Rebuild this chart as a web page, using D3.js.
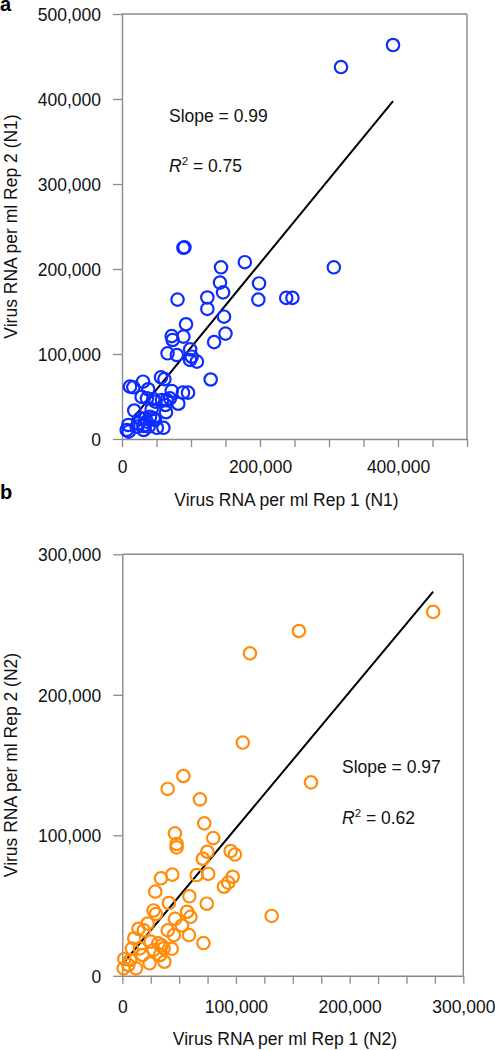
<!DOCTYPE html>
<html>
<head>
<meta charset="utf-8">
<script src="https://cdn.jsdelivr.net/npm/d3@7"></script>
<style>
  html, body { margin: 0; padding: 0; background: #fff; }
  svg { display: block; }
  text { font-family: "Liberation Sans", Arial, Helvetica, sans-serif; }
</style>
</head>
<body>
<svg id="chart" width="495" height="1050"></svg>
<script>
// ---------------- DATA ----------------
// Panel a: N1 (Rep 1 x, Rep 2 y), values in copies per ml
const n1Rep1 = [392800, 317400, 89000, 90500, 143500, 178000, 142000, 146500, 80500, 123700,
  123700, 198600, 197600, 238000, 247000, 307000, 147800, 150000, 133500, 92800,
  89000, 72000, 73400, 66000, 79500, 98800, 101000, 98600, 108500, 128500,
  56500, 61500, 16400, 11600, 30500, 38000, 72000, 88400, 95700, 81600,
  69600, 58000, 64700, 28500, 36200, 45400, 48300, 62800, 17800, 43000,
  63800, 9200, 6800, 9700, 60000, 50500, 23600, 35800, 26000, 40600,
  30900, 47800, 21300, 33800, 45900, 38600, 31400];
const n1Rep2 = [463500, 437600, 225000, 225500, 202000, 208000, 184000, 172500, 164000, 166500,
  153000, 183000, 164000, 166000, 166000, 202000, 143900, 124000, 114000, 135000,
  120500, 121000, 116500, 100800, 98800, 105500, 96800, 93000, 91000, 70000,
  72600, 70500, 60800, 61600, 67400, 58500, 56500, 54500, 54500, 41500,
  47800, 45900, 45900, 49500, 47800, 47000, 43900, 40000, 33500, 35000,
  31500, 16500, 10600, 8600, 13200, 13200, 18400, 20400, 24300, 26200,
  15300, 22400, 14500, 24300, 24300, 14500, 10600];

// Panel b: N2
const n2Rep1 = [273500, 155400, 112300, 106000, 166000, 131400, 53700, 39900, 68300, 72100,
  46300, 47800, 47800, 80000, 74800, 95300, 99100, 70900, 65400, 75600,
  97100, 93200, 89400, 34000, 44000, 29000, 59000, 41000, 74300, 27500,
  29600, 57000, 60000, 46400, 40000, 52500, 45300, 58700, 71400, 14200,
  19000, 22300, 25000, 31700, 34800, 43500, 36400, 8400, 15400, 27500,
  10500, 1800, 7000, 17900, 33200, 37000, 24000, 1200, 12000, 5300];
const n2Rep2 = [259000, 245400, 229500, 166000, 137700, 42600, 142200, 133000, 125600, 108500,
  101400, 93800, 91400, 98000, 88300, 88800, 86300, 83300, 71700, 72500,
  70500, 66300, 63400, 69400, 72000, 59900, 56600, 51800, 51300, 46500,
  44000, 45600, 42000, 40500, 32300, 35800, 29000, 29000, 23300, 33400,
  32300, 37200, 24300, 23100, 21500, 19200, 19600, 19400, 19500, 18400,
  26700, 12000, 11200, 14800, 14800, 10000, 8900, 5300, 5300, 7700];

// Regression fits: [slope, intercept, xStart, xEnd]
const fitN1 = [0.99, 8700, 14000, 392800];
const fitN2 = [0.97, 8100, 2400, 273500];

// Annotation texts
const slopeLabels = ["Slope = 0.99", "Slope = 0.97"];
const r2Values = ["0.75", "0.62"];
const panelLetters = ["a", "b"];

// Axis ticks and labels
const xTicksA = d3.range(0, 500001, 50000);
const xLabelsA = [0, 200000, 400000];
const yTicksA = [0, 100000, 200000, 300000, 400000, 500000];
const xTicksB = d3.range(0, 300001, 25000);
const xLabelsB = [0, 100000, 200000, 300000];
const yTicksB = [0, 100000, 200000, 300000];

const xTitles = ["Virus RNA per ml Rep 1 (N1)", "Virus RNA per ml Rep 1 (N2)"];
const yTitles = ["Virus RNA per ml Rep 2 (N1)", "Virus RNA per ml Rep 2 (N2)"];

// ---------------- DRAW ----------------
const svg = d3.select("#chart");
const fmt = d3.format(",");
const AXIS = "#8a8a8a";
const FS = 17.5;

const panels = [
  { xs: n1Rep1, ys: n1Rep2, fit: fitN1, xDom: [0, 500000], yDom: [0, 500000],
    xr: [122, 467], yr: [439, 14], xt: xTicksA, xl: xLabelsA, yt: yTicksA,
    color: "#0d2cff", slope: slopeLabels[0], r2: r2Values[0], annX: 169, annY: 122, annY2: 172,
    letter: panelLetters[0], letterY: 11, xTitle: xTitles[0], yTitle: yTitles[0],
    xTitleX: 286.5, xTitleY: 506, xLabY: 473 },
  { xs: n2Rep1, ys: n2Rep2, fit: fitN2, xDom: [0, 300000], yDom: [0, 300000],
    xr: [122.3, 463.3], yr: [975.8, 554.3], xt: xTicksB, xl: xLabelsB, yt: yTicksB,
    color: "#ff8c0a", slope: slopeLabels[1], r2: r2Values[1], annX: 342, annY: 773, annY2: 824,
    letter: panelLetters[1], letterY: 499, xTitle: xTitles[1], yTitle: yTitles[1],
    xTitleX: 285, xTitleY: 1045, xLabY: 1013 }
];

panels.forEach(p => {
  const x = d3.scaleLinear().domain(p.xDom).range(p.xr);
  const y = d3.scaleLinear().domain(p.yDom).range(p.yr);
  const g = svg.append("g");

  // frame: top and right
  g.append("line").attr("x1", p.xr[0]).attr("x2", p.xr[1]).attr("y1", p.yr[1]).attr("y2", p.yr[1])
    .attr("stroke", AXIS).attr("stroke-width", 1.4);
  g.append("line").attr("x1", p.xr[1]).attr("x2", p.xr[1]).attr("y1", p.yr[1]).attr("y2", p.yr[0])
    .attr("stroke", AXIS).attr("stroke-width", 1.4);

  // x axis
  const xAxis = d3.axisBottom(x).tickValues(p.xt).tickSize(8).tickSizeOuter(0)
    .tickFormat(d => p.xl.includes(d) ? fmt(d) : "");
  const gx = g.append("g").attr("transform", `translate(0,${p.yr[0]})`).call(xAxis);
  gx.select(".domain").attr("stroke", AXIS).attr("stroke-width", 1.4);
  gx.selectAll(".tick line").attr("stroke", AXIS).attr("stroke-width", 1.3);
  gx.selectAll(".tick text").attr("font-size", FS).attr("fill", "#111")
    .attr("dy", null).attr("y", p.xLabY - p.yr[0]);

  // y axis
  const yAxis = d3.axisLeft(y).tickValues(p.yt).tickSize(9).tickSizeOuter(0).tickPadding(12)
    .tickFormat(d => fmt(d));
  const gy = g.append("g").attr("transform", `translate(${p.xr[0]},0)`).call(yAxis);
  gy.select(".domain").attr("stroke", AXIS).attr("stroke-width", 1.4);
  gy.selectAll(".tick line").attr("stroke", AXIS).attr("stroke-width", 1.3);
  gy.selectAll(".tick text").attr("font-size", FS).attr("fill", "#111").attr("dy", "0.36em");

  // regression line
  const [sl, ic, x0, x1] = p.fit;
  g.append("line")
    .attr("x1", x(x0)).attr("y1", y(sl * x0 + ic))
    .attr("x2", x(x1)).attr("y2", y(sl * x1 + ic))
    .attr("stroke", "#000").attr("stroke-width", 2);

  // points
  g.append("g").selectAll("circle").data(d3.range(p.xs.length)).join("circle")
    .attr("cx", i => x(p.xs[i])).attr("cy", i => y(p.ys[i])).attr("r", 6.2)
    .attr("fill", "none").attr("stroke", p.color).attr("stroke-width", 2.2);

  // annotations
  g.append("text").attr("x", p.annX).attr("y", p.annY).attr("font-size", FS).attr("fill", "#111")
    .text(p.slope);
  const t = g.append("text").attr("x", p.annX).attr("y", p.annY2).attr("font-size", FS).attr("fill", "#111");
  t.append("tspan").attr("font-style", "italic").text("R");
  t.append("tspan").attr("font-size", 11.5).attr("dy", -7).text("2");
  t.append("tspan").attr("dy", 7).text(" = " + p.r2);

  // titles
  g.append("text").attr("x", p.xTitleX).attr("y", p.xTitleY).attr("text-anchor", "middle")
    .attr("font-size", FS).attr("fill", "#111").text(p.xTitle);
  const cy = (p.yr[0] + p.yr[1]) / 2;
  g.append("text").attr("transform", `translate(17,${cy}) rotate(-90)`).attr("text-anchor", "middle")
    .attr("font-size", FS).attr("fill", "#111").text(p.yTitle);

  // panel letter
  g.append("text").attr("x", 0).attr("y", p.letterY).attr("font-size", 20).attr("font-weight", "bold")
    .attr("fill", "#000").text(p.letter);
});
</script>
</body>
</html>
